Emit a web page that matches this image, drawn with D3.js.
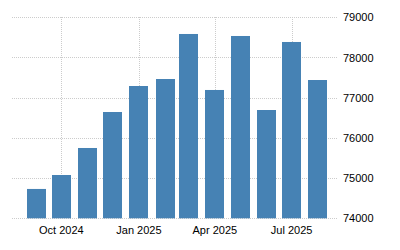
<!DOCTYPE html>
<html>
<head>
<meta charset="utf-8">
<script src="https://cdn.jsdelivr.net/npm/d3@7"></script>
<style>
  html, body { margin: 0; padding: 0; background: #fff; }
  svg text { font-family: "Liberation Sans", Arial, sans-serif; font-size: 11px; fill: #000; }
</style>
</head>
<body>
<svg id="chart" width="400" height="250"></svg>
<script>
var months = ['2024-09', '2024-10', '2024-11', '2024-12', '2025-01', '2025-02',
              '2025-03', '2025-04', '2025-05', '2025-06', '2025-07', '2025-08']
var values = [74730, 75077, 75749, 76644, 77291, 77465, 78585, 77192, 78535, 76694, 78386, 77440]
var yTicks = [74000, 75000, 76000, 77000, 78000, 79000]
var xTicks = ['2024-10', '2025-01', '2025-04', '2025-07']

var parse = d3.timeParse('%Y-%m')

var svg = d3.select('#chart')

var x = d3.scaleTime()
    .domain([new Date(2024, 7, 3, 12), new Date(2025, 7, 25)])
    .range([12, 338])

var y = d3.scaleLinear()
    .domain([74000, 79000])
    .range([218.3, 17.3])

// grid
svg.append('g')
    .selectAll('line')
    .data(yTicks)
    .enter().append('line')
    .attr('x1', 12).attr('x2', 338)
    .attr('y1', d => Math.round(y(d)) + 0.5)
    .attr('y2', d => Math.round(y(d)) + 0.5)
    .attr('stroke', '#ccc')
    .attr('stroke-dasharray', '1,1')

svg.append('g')
    .selectAll('line')
    .data(xTicks)
    .enter().append('line')
    .attr('x1', d => Math.round(x(parse(d))) + 0.5)
    .attr('x2', d => Math.round(x(parse(d))) + 0.5)
    .attr('y1', 17).attr('y2', 218)
    .attr('stroke', '#ccc')
    .attr('stroke-dasharray', '1,1')

// bars
var bw = 19
svg.append('g')
    .selectAll('rect')
    .data(months)
    .enter().append('rect')
    .attr('x', d => Math.round(x(parse(d)) - bw / 2))
    .attr('width', bw)
    .attr('y', (d, i) => y(values[i]))
    .attr('height', (d, i) => y(74000) - y(values[i]))
    .attr('fill', '#4682b4')

// y labels on the right
svg.append('g')
    .selectAll('text')
    .data(yTicks)
    .enter().append('text')
    .attr('x', 343)
    .attr('y', d => y(d) + 4)
    .text(d => d)

// x labels
var fmt = d3.timeFormat('%b %Y')
svg.append('g')
    .selectAll('text')
    .data(xTicks)
    .enter().append('text')
    .attr('x', d => x(parse(d)))
    .attr('y', 234)
    .attr('text-anchor', 'middle')
    .text(d => fmt(parse(d)))
</script>
</body>
</html>
